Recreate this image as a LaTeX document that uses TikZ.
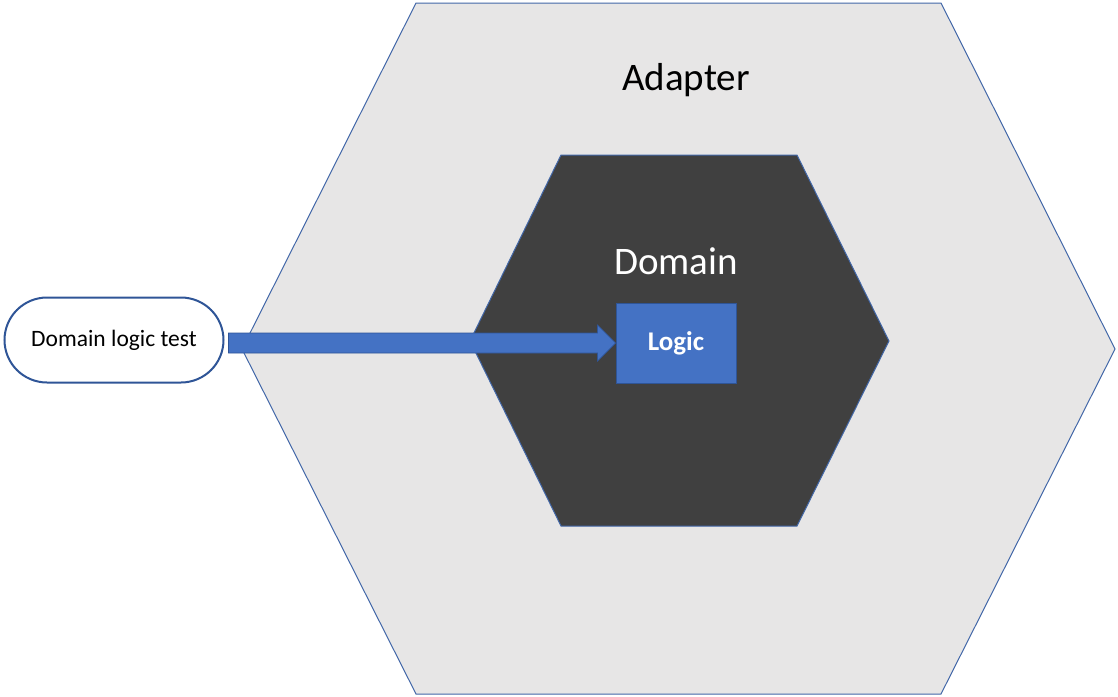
\documentclass[tikz,border=0pt]{standalone}
\usepackage{fontspec}
\setmainfont{Carlito}
\usetikzlibrary{calc,shapes.misc}
\definecolor{adaptfill}{HTML}{E7E6E6}
\definecolor{hexline}{HTML}{4267A8}
\definecolor{domfill}{HTML}{404040}
\definecolor{logicfill}{HTML}{4472C4}
\definecolor{logicline}{HTML}{2F5597}
\tikzset{
  hexshape/.style={line width=1pt},
  testbox/.style={rounded rectangle, draw=logicline, line width=2pt, fill=white,
    minimum width=219pt, minimum height=85pt, inner sep=0pt,
    font=\fontsize{23.5}{28}\selectfont},
  logicbox/.style={rectangle, draw=logicline, line width=1pt, fill=logicfill,
    minimum width=120pt, minimum height=80pt, inner sep=0pt, text=white,
    font=\fontsize{27}{32}\selectfont\bfseries},
  bigtitle/.style={font=\fontsize{39}{45}\selectfont, inner sep=0pt},
  arrowbody/.style={fill=logicfill, draw=logicline, line width=0.7pt, line join=miter}
}
\begin{document}
\begin{tikzpicture}[x=1pt,y=-1pt]
\useasboundingbox (0,0) rectangle (1118,696);
% outer hexagon (Adapter)
\draw[hexshape, draw=hexline, fill=adaptfill]
  (416,3) -- (941,3) -- (1115,349) -- (941,694) -- (416,694) -- (242,349) -- cycle;
% inner hexagon (Domain)
\draw[hexshape, draw=hexline, fill=domfill]
  (561,155) -- (797,155) -- (889,341) -- (797,526) -- (561,526) -- (470,341) -- cycle;
\node[bigtitle] (adapter) at (686,80) {Adapter};
\node[bigtitle, text=white] (domain) at (676,261) {Domain};
\node[logicbox] (logic) at (676,343) {Logic};
\node[testbox] (test) at (114,340) {Domain logic test};
% arrow from test to logic
\coordinate (a0) at ($(test.east |- logic.west)+(4,0)$);
\coordinate (a1) at (logic.west);
\draw[arrowbody]
  ($(a0)+(0,-10)$) -- ($(a1)+(-18,-10)$) -- ($(a1)+(-18,-18)$) -- (a1)
  -- ($(a1)+(-18,18)$) -- ($(a1)+(-18,10)$) -- ($(a0)+(0,10)$) -- cycle;
\end{tikzpicture}
\end{document}
